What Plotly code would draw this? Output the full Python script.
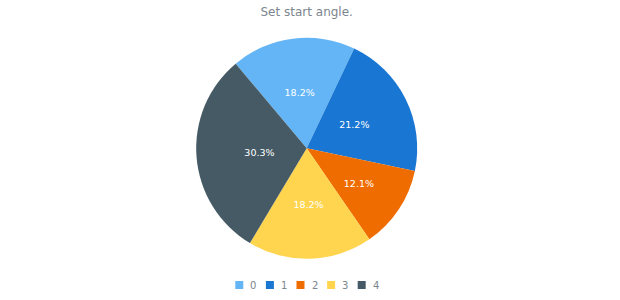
import plotly.graph_objects as go

labels = ["0", "1", "2", "3", "4"]
values = [6, 7, 4, 6, 10]
colors = ["#64b5f6", "#1976d2", "#ef6c00", "#ffd54f", "#455a64"]
title_text = "Set start angle."

W, H = 620, 300
cx, cy, R = 306.7, 148.3, 110.5
R_text = 86  # radius of the invisible pie that carries the labels
FONT = "DejaVu Sans"
GRAY = "#7c868e"


def dom(r):
    return dict(x=[(cx - r) / W, (cx + r) / W], y=[(H - cy - r) / H, (H - cy + r) / H])


fig = go.Figure()
fig.add_trace(go.Pie(
    labels=labels, values=values, sort=False, direction="clockwise", rotation=-40,
    marker=dict(colors=colors, line=dict(width=0)),
    textinfo="none", hoverinfo="none", showlegend=False, domain=dom(R),
))
fig.add_trace(go.Pie(
    labels=labels, values=values, sort=False, direction="clockwise", rotation=-40,
    marker=dict(colors=["rgba(0,0,0,0)"] * len(labels), line=dict(width=0)),
    texttemplate="%{percent:.1%}", textposition="inside",
    insidetextorientation="horizontal",
    textfont=dict(family=FONT, size=9.5, color="#ffffff"),
    hoverinfo="none", showlegend=False, domain=dom(R_text),
))

# custom legend (layout only)
pitch, sq, gap = 30.6, 8, 6
x0, ymid = 235.3, 285
shapes, annotations = [], []
for i, (lab, col) in enumerate(zip(labels, colors)):
    xs = x0 + i * pitch
    shapes.append(dict(type="rect", xref="paper", yref="paper",
                       x0=xs / W, x1=(xs + sq) / W,
                       y0=(H - ymid - sq / 2) / H, y1=(H - ymid + sq / 2) / H,
                       fillcolor=col, line=dict(width=0)))
    annotations.append(dict(text=lab, xref="paper", yref="paper",
                            x=(xs + sq + gap - 1) / W, y=(H - ymid) / H,
                            xanchor="left", yanchor="middle", showarrow=False,
                            font=dict(family=FONT, size=10, color=GRAY)))

fig.update_layout(
    width=W, height=H,
    margin=dict(l=0, r=0, t=0, b=0),
    paper_bgcolor="#ffffff",
    plot_bgcolor="#ffffff",
    font=dict(family=FONT, color=GRAY),
    title=dict(text=title_text, x=cx / W, xanchor="center", y=1 - 12 / H, yanchor="middle",
               font=dict(family=FONT, size=12, color=GRAY)),
    showlegend=False,
    shapes=shapes,
    annotations=annotations,
)

fig.write_html("out.html")
